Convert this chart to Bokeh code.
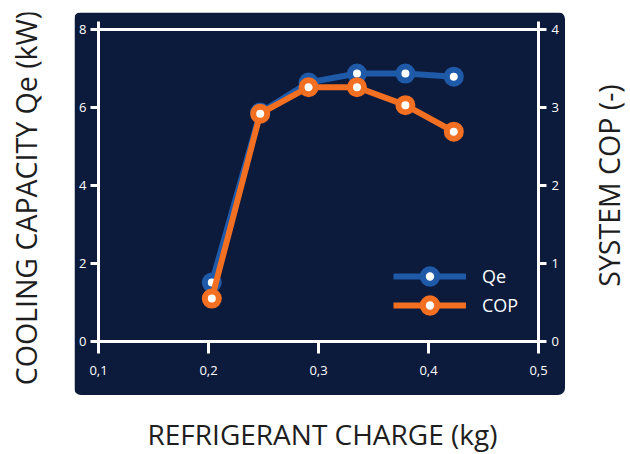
import math
from bokeh.plotting import figure
from bokeh.layouts import column, row
from bokeh.models import (LinearAxis, Range1d, FixedTicker, CustomJSTickFormatter,
                          Legend, LegendItem, Label, Spacer)
from bokeh.embed import file_html
from bokeh.resources import INLINE

# ---- data ----
charge = [0.203, 0.247, 0.291, 0.335, 0.379, 0.423]
qe = [1.51, 5.87, 6.64, 6.87, 6.87, 6.79]
cop = [0.55, 2.92, 3.26, 3.26, 3.03, 2.69]
x_ticks = [0.1, 0.2, 0.3, 0.4, 0.5]
qe_ticks = [0, 2, 4, 6, 8]
cop_ticks = [0, 1, 2, 3, 4]

x_title = "REFRIGERANT CHARGE (kg)"
qe_title = "COOLING CAPACITY Qe (kW)"
cop_title = "SYSTEM COP (-)"

NAVY = "#0c1a3c"
BLUE = "#1f5aa8"
ORANGE = "#f36f21"
TXT = "#1e1e1e"
FONT = "Open Sans"

PW, PH = 491, 383   # navy panel
LW, RW, BH, TOPGAP = 74, 65, 59, 12

# ---- main (navy) panel ----
p = figure(width=PW, height=PH, x_range=Range1d(0.1, 0.5), y_range=Range1d(0, 8),
           output_backend="svg", toolbar_location=None,
           x_axis_location=None, y_axis_location=None,
           min_border_left=24, min_border_right=27, min_border_top=17, min_border_bottom=54,
           background_fill_color=NAVY, border_fill_color=NAVY, outline_line_color=None,
           frame_align=False,
           styles={"border-radius": "7px", "overflow": "hidden"})
p.extra_y_ranges = {"cop": Range1d(0, 4)}
p.xgrid.visible = False
p.ygrid.visible = False


def style(ax, tick_out):
    ax.axis_line_color = "white"
    ax.axis_line_width = 3
    ax.major_tick_line_color = "white"
    ax.major_tick_line_width = 3
    ax.major_tick_in = 0
    ax.major_tick_out = tick_out
    ax.minor_tick_line_color = None
    ax.major_label_text_color = "white"
    ax.major_label_text_font = FONT
    ax.major_label_text_font_size = "13px"


xax = LinearAxis(ticker=FixedTicker(ticks=x_ticks),
                 formatter=CustomJSTickFormatter(code="return tick.toFixed(1).replace('.', ',');"))
style(xax, 12)
xax.major_label_standoff = 12
p.add_layout(xax, "below")

topax = LinearAxis(ticker=FixedTicker(ticks=[0.1, 0.5]),
                   formatter=CustomJSTickFormatter(code="return '';"))
style(topax, 8)
p.add_layout(topax, "above")

lax = LinearAxis(ticker=FixedTicker(ticks=qe_ticks))
style(lax, 8)
lax.major_label_standoff = 4
p.add_layout(lax, "left")

rax = LinearAxis(ticker=FixedTicker(ticks=cop_ticks), y_range_name="cop")
style(rax, 8)
rax.major_label_standoff = 5
p.add_layout(rax, "right")

l1 = p.line(charge, qe, line_color=BLUE, line_width=6)
s1 = p.scatter(charge, qe, size=14, fill_color="white", line_color=BLUE, line_width=6)
l2 = p.line(charge, cop, line_color=ORANGE, line_width=6, y_range_name="cop")
s2 = p.scatter(charge, cop, size=14, fill_color="white", line_color=ORANGE, line_width=6,
               y_range_name="cop")

legend_kw = dict(padding=0, margin=0, spacing=0, glyph_width=73, glyph_height=36,
                 label_standoff=16, label_text_color="white", label_text_font=FONT,
                 label_text_font_size="18px", background_fill_alpha=0, border_line_alpha=0)
p.add_layout(Legend(items=[LegendItem(label="Qe", renderers=[l1, s1])],
                    location=(295, 47), **legend_kw))
p.add_layout(Legend(items=[LegendItem(label="COP", renderers=[l2, s2])],
                    location=(295, 18), **legend_kw))


# ---- title strips (white, outside the panel) ----
def strip(w, h):
    f = figure(width=w, height=h, x_range=Range1d(0, w), y_range=Range1d(0, h),
               output_backend="svg", toolbar_location=None,
               x_axis_location=None, y_axis_location=None,
               min_border=0, outline_line_color=None, frame_align=False,
               background_fill_color="white", border_fill_color="white")
    f.xgrid.visible = False
    f.ygrid.visible = False
    return f


title_kw = dict(text_font=FONT, text_font_size="28.5px", text_color=TXT,
                text_align="center", text_baseline="middle")

left = strip(LW, PH)
left.add_layout(Label(x=25, y=PH - 185.5, text=qe_title, angle=math.pi / 2, **title_kw))

right = strip(RW, PH)
right.add_layout(Label(x=43, y=PH - 173, text=cop_title, angle=math.pi / 2, **title_kw))

bottom = strip(LW + PW + RW, BH)
bottom.add_layout(Label(x=322, y=BH - 38.5, text=x_title,
                        **{**title_kw, "text_font_size": "28px"}))

layout = column(Spacer(width=LW + PW + RW, height=TOPGAP),
                row(left, p, right),
                bottom)

open("out.html", "w").write(file_html(layout, INLINE))
